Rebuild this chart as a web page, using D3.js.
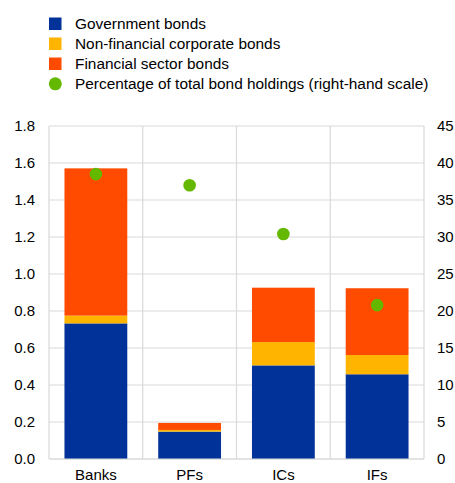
<!DOCTYPE html>
<html><head><meta charset="utf-8">
<script src="https://cdn.jsdelivr.net/npm/d3@7"></script>
<style>body{margin:0;background:#fff}svg{display:block}text{font-family:"Liberation Sans",Arial,sans-serif}</style>
</head><body><svg id="c" width="455" height="483"></svg>
<script>
const categories = ["Banks","PFs","ICs","IFs"];
const governmentBonds = [0.733,0.148,0.506,0.458];
const nonFinancialCorporateBonds = [0.042,0.009,0.126,0.104];
const financialSectorBonds = [0.796,0.038,0.294,0.361];
const percentageOfTotal = [38.5,37.0,30.4,20.8];
const leftTicks = [0,0.2,0.4,0.6,0.8,1.0,1.2,1.4,1.6,1.8];
const rightTicks = [0,5,10,15,20,25,30,35,40,45];
const seriesNames = ["Government bonds","Non-financial corporate bonds","Financial sector bonds"];
const dotName = "Percentage of total bond holdings (right-hand scale)";
const colors = ["#003299","#FFB400","#FF4B00"];
const dotColor = "#65B800";

const svg = d3.select("#c");
const m = {l:49, r:424, t:126, b:459};
const x = d3.scaleBand().domain(categories).range([m.l,m.r]).paddingInner(0.33).paddingOuter(0.165);
const xg = d3.scaleBand().domain(categories).range([m.l,m.r]);
const y = d3.scaleLinear().domain([0,1.8]).range([m.b,m.t]);
const y2 = d3.scaleLinear().domain([0,45]).range([m.b,m.t]);
const grid = "#d9d9d9";

// gridlines
svg.append("g").selectAll("line").data(leftTicks).join("line")
  .attr("x1",m.l).attr("x2",m.r).attr("y1",d=>y(d)).attr("y2",d=>y(d))
  .attr("stroke",grid).attr("stroke-width",1.2);
const vb = categories.map(c=>xg(c)).concat([m.r]);
svg.append("g").selectAll("line").data(vb).join("line")
  .attr("x1",d=>d).attr("x2",d=>d).attr("y1",m.t).attr("y2",m.b)
  .attr("stroke",grid).attr("stroke-width",1.2);

// stacked bars
const data = categories.map((c,i)=>({cat:c, s0:governmentBonds[i], s1:nonFinancialCorporateBonds[i], s2:financialSectorBonds[i]}));
const stack = d3.stack().keys(["s0","s1","s2"])(data);
svg.append("g").selectAll("g").data(stack).join("g").attr("fill",(d,i)=>colors[i])
  .selectAll("rect").data(d=>d).join("rect")
  .attr("x",d=>x(d.data.cat)).attr("width",x.bandwidth())
  .attr("y",d=>y(d[1])).attr("height",d=>y(d[0])-y(d[1]));

// dots
svg.append("g").selectAll("circle").data(percentageOfTotal).join("circle")
  .attr("cx",(d,i)=>x(categories[i])+x.bandwidth()/2).attr("cy",d=>y2(d)).attr("r",6.3)
  .attr("fill",dotColor);

// axes
const la = svg.append("g").attr("transform",`translate(${m.l},0)`)
  .call(d3.axisLeft(y).tickValues(leftTicks).tickFormat(d3.format(".1f")).tickSize(0).tickPadding(14));
const ra = svg.append("g").attr("transform",`translate(${m.r},0)`)
  .call(d3.axisRight(y2).tickValues(rightTicks).tickSize(0).tickPadding(13));
const ba = svg.append("g").attr("transform",`translate(0,${m.b})`)
  .call(d3.axisBottom(x).tickSize(0).tickPadding(10));
[la,ra,ba].forEach(a=>{a.select(".domain").remove();a.selectAll("text").attr("font-size",15).attr("fill","#000").attr("font-family","Liberation Sans, Arial, sans-serif");});
svg.append("line").attr("x1",m.l).attr("x2",m.r).attr("y1",m.b).attr("y2",m.b).attr("stroke",grid).attr("stroke-width",1.2);

// legend
const leg = svg.append("g");
const items = seriesNames.map((n,i)=>({n,c:colors[i],t:"rect"})).concat([{n:dotName,c:dotColor,t:"circle"}]);
items.forEach((it,i)=>{
  const cy = 23.5 + i*20;
  if(it.t==="rect") leg.append("rect").attr("x",49).attr("y",cy-6).attr("width",12.5).attr("height",12.5).attr("fill",it.c);
  else leg.append("circle").attr("cx",55.3).attr("cy",cy+0.3).attr("r",6.5).attr("fill",it.c);
  leg.append("text").attr("x",75).attr("y",cy+5.3).attr("font-size",15.4).attr("fill","#000").text(it.n);
});
</script></body></html>
